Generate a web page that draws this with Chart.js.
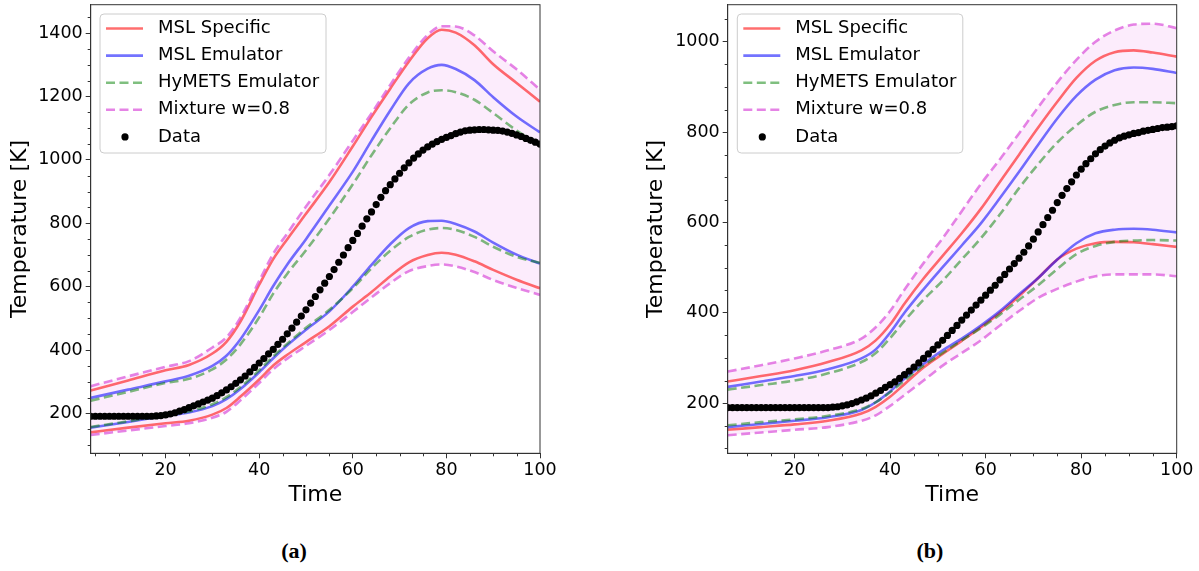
<!DOCTYPE html>
<html>
<head>
<meta charset="utf-8">
<title>Temperature emulators</title>
<script src="https://cdn.jsdelivr.net/npm/chart.js@4.4.1/dist/chart.umd.min.js"></script>
<style>
  html, body { margin: 0; padding: 0; background: #fff; }
  body { position: relative; width: 1199px; height: 571px; overflow: hidden; }
  canvas { position: absolute; top: 0; }
  #chartA { left: 0; }
  #chartB { left: 600px; }
  .caption { position: absolute; top: 540px; width: 100px; text-align: center;
             font: bold 22px/22px "Liberation Serif", "Times New Roman", serif; color: #000; }
</style>
</head>
<body>
<canvas id="chartA" width="560" height="520"></canvas>
<canvas id="chartB" width="599" height="520"></canvas>
<div class="caption" style="left:244px">(a)</div>
<div class="caption" style="left:880px">(b)</div>
<script>
// legend order
const seriesLabels = ['MSL Specific', 'MSL Emulator', 'HyMETS Emulator', 'Mixture w=0.8', 'Data'];
const xTickValues = [20, 40, 60, 80, 100];
const yTickValuesA = [200, 400, 600, 800, 1000, 1200, 1400];
const yTickValuesB = [200, 400, 600, 800, 1000];

// (a) upper / lower band edges
const timeA = [4, 12, 20, 25, 30, 33, 36, 40, 43, 46, 50, 55, 60, 64, 68, 72, 76, 79, 82, 86, 90, 95, 100];
const specUpA = [272, 304, 336, 353, 389, 426, 490, 606, 687, 750, 830, 930, 1043, 1136, 1225, 1311, 1384, 1411, 1402, 1362, 1302, 1243, 1184];
const specLoA = [140, 155, 169, 177, 196, 217, 253, 307, 351, 385, 425, 475, 537, 583, 633, 677, 700, 707, 701, 680, 653, 622, 595];
const emuUpA = [249, 275, 301, 319, 350, 382, 434, 526, 602, 670, 750, 856, 963, 1061, 1156, 1242, 1288, 1300, 1287, 1252, 1198, 1137, 1087];
const emuLoA = [155, 173, 192, 203, 223, 245, 277, 330, 374, 415, 464, 522, 600, 669, 734, 785, 807, 808, 798, 774, 739, 701, 673];
const hymUpA = [240, 268, 296, 309, 339, 370, 418, 503, 578, 641, 715, 815, 923, 1015, 1100, 1175, 1213, 1220, 1214, 1190, 1148, 1093, 1049];
const hymLoA = [157, 175, 194, 206, 229, 251, 283, 336, 380, 420, 470, 527, 595, 658, 713, 757, 780, 785, 779, 757, 726, 694, 675];
const mixUpA = [286, 317, 347, 365, 408, 440, 502, 618, 704, 768, 853, 953, 1061, 1147, 1237, 1323, 1395, 1422, 1421, 1393, 1343, 1286, 1222];
const mixLoA = [132, 146, 160, 169, 186, 205, 241, 296, 339, 373, 413, 463, 520, 566, 611, 649, 665, 670, 664, 646, 621, 596, 574];

// (a) measurements
const dataTimeA = [
  4, 5, 6, 7, 8, 9, 10, 11, 12, 13,
  14, 15, 16, 17, 18, 19, 20, 21, 22, 23,
  24, 25, 26, 27, 28, 29, 30, 31, 32, 33,
  34, 35, 36, 37, 38, 39, 40, 41, 42, 43,
  44, 45, 46, 47, 48, 49, 50, 51, 52, 53,
  54, 55, 56, 57, 58, 59, 60, 61, 62, 63,
  64, 65, 66, 67, 68, 69, 70, 71, 72, 73,
  74, 75, 76, 77, 78, 79, 80, 81, 82, 83,
  84, 85, 86, 87, 88, 89, 90, 91, 92, 93,
  94, 95, 96, 97, 98, 99, 100];
const dataTempA = [
  191, 191, 191, 191, 191, 191, 191, 191, 191, 191,
  191, 191, 191, 191, 192, 193, 195, 198, 202, 207,
  212, 218, 224, 230, 236, 242, 248, 256, 265, 274,
  284, 295, 306, 318, 331, 345, 359, 373, 388, 402,
  418, 434, 451, 469, 488, 507, 527, 548, 569, 590,
  611, 632, 654, 677, 700, 723, 746, 768, 791, 814,
  836, 859, 882, 903, 922, 940, 958, 975, 991, 1006,
  1019, 1031, 1041, 1050, 1058, 1065, 1071, 1077, 1083, 1088,
  1092, 1094, 1095, 1096, 1096, 1095, 1094, 1093, 1091, 1088,
  1084, 1079, 1074, 1068, 1062, 1056, 1050];

// (b) upper / lower band edges
const timeB = [6, 13, 20, 27, 34, 37, 40, 43, 47, 51, 55, 59, 63, 67, 71, 75, 79, 83, 87, 91, 95, 100];
const specUpB = [248, 260, 273, 291, 317, 339, 374, 420, 476, 526, 576, 630, 690, 750, 810, 867, 920, 958, 977, 981, 976, 967];
const specLoB = [141, 147, 153, 161, 177, 192, 214, 242, 279, 309, 338, 368, 400, 437, 477, 518, 542, 554, 557, 556, 552, 546];
const emuUpB = [236, 248, 260, 275, 299, 319, 356, 400, 452, 501, 549, 598, 654, 712, 772, 830, 880, 916, 937, 943, 940, 931];
const emuLoB = [147, 154, 161, 169, 185, 202, 226, 254, 287, 317, 343, 372, 404, 441, 477, 518, 554, 576, 584, 586, 584, 578];
const hymUpB = [230, 240, 250, 266, 291, 311, 344, 382, 429, 471, 518, 565, 618, 676, 729, 777, 815, 845, 860, 866, 866, 864];
const hymLoB = [151, 158, 164, 172, 187, 202, 224, 250, 283, 311, 339, 366, 396, 429, 461, 497, 530, 548, 557, 560, 561, 560];
const mixUpB = [270, 284, 299, 317, 343, 368, 404, 451, 510, 565, 625, 685, 740, 797, 855, 910, 960, 1000, 1025, 1038, 1040, 1030];
const mixLoB = [129, 135, 141, 147, 161, 173, 194, 218, 250, 283, 311, 339, 372, 404, 433, 453, 469, 481, 485, 485, 485, 481];

// (b) measurements
const dataTimeB = [
  6, 7, 8, 9, 10, 11, 12, 13, 14, 15,
  16, 17, 18, 19, 20, 21, 22, 23, 24, 25,
  26, 27, 28, 29, 30, 31, 32, 33, 34, 35,
  36, 37, 38, 39, 40, 41, 42, 43, 44, 45,
  46, 47, 48, 49, 50, 51, 52, 53, 54, 55,
  56, 57, 58, 59, 60, 61, 62, 63, 64, 65,
  66, 67, 68, 69, 70, 71, 72, 73, 74, 75,
  76, 77, 78, 79, 80, 81, 82, 83, 84, 85,
  86, 87, 88, 89, 90, 91, 92, 93, 94, 95,
  96, 97, 98, 99, 100];
const dataTempB = [
  190, 190, 190, 190, 190, 190, 190, 190, 190, 190,
  190, 190, 190, 190, 190, 190, 190, 190, 190, 190,
  190, 190, 191, 192, 194, 196, 199, 203, 207, 211,
  216, 222, 228, 235, 241, 247, 255, 263, 271, 280,
  289, 299, 309, 319, 329, 339, 350, 361, 372, 384,
  395, 406, 417, 428, 439, 450, 461, 473, 485, 497,
  509, 521, 534, 548, 563, 579, 595, 611, 627, 644,
  660, 675, 690, 705, 718, 730, 741, 752, 761, 769,
  776, 782, 787, 791, 794, 797, 799, 802, 804, 806,
  808, 810, 811, 812, 814];

// styling
const lineColors = ['rgba(255, 0, 0, 0.57)', 'rgba(0, 0, 255, 0.55)', 'rgba(0, 128, 0, 0.5)', 'rgba(218, 80, 218, 0.7)'];
const lineDashes = [[], [], [9, 4.5], [9, 4.5]];
const bandFill = 'rgba(238, 130, 238, 0.15)';
const lineW = 2.6;
const tickFont = { family: 'DejaVu Sans', size: 17.5 };
const legendFont = { family: 'DejaVu Sans', size: 18 };
const titleFont = { family: 'DejaVu Sans', size: 22 };
const axisColor = '#333';

Chart.defaults.font.family = 'DejaVu Sans';

function pairs(xs, ys) {
  return xs.map((x, i) => ({ x: x, y: ys[i] }));
}

// spines on top/right plus matplotlib-style minor ticks
const frameTicks = {
  id: 'frameTicks',
  afterDraw(chart, args, o) {
    const { ctx, chartArea: a, scales: { x, y } } = chart;
    ctx.save();
    ctx.strokeStyle = axisColor;
    ctx.lineWidth = 1;
    ctx.strokeRect(a.left, a.top, a.right - a.left, a.bottom - a.top);
    ctx.beginPath();
    for (let v = 5; v < x.max; v += 5) {
      if (v < x.min || v % 20 === 0) continue;
      const px = Math.round(x.getPixelForValue(v)) + 0.5;
      ctx.moveTo(px, a.bottom);
      ctx.lineTo(px, a.bottom + 3);
    }
    for (let v = Math.ceil(y.min / 50) * 50; v < y.max; v += 50) {
      if (v % 200 === 0) continue;
      const py = Math.round(y.getPixelForValue(v)) + 0.5;
      ctx.moveTo(a.left, py);
      ctx.lineTo(a.left - 3, py);
    }
    ctx.stroke();
    ctx.restore();
  }
};

// legend box drawn inside the plot, upper left
const boxLegend = {
  id: 'boxLegend',
  afterDraw(chart, args, o) {
    const ctx = chart.ctx;
    const { x, y, w, h } = o;
    const r = 4;
    ctx.save();
    ctx.beginPath();
    ctx.moveTo(x + r, y);
    ctx.arcTo(x + w, y, x + w, y + h, r);
    ctx.arcTo(x + w, y + h, x, y + h, r);
    ctx.arcTo(x, y + h, x, y, r);
    ctx.arcTo(x, y, x + w, y, r);
    ctx.closePath();
    ctx.fillStyle = 'rgba(255, 255, 255, 0.8)';
    ctx.fill();
    ctx.strokeStyle = '#cccccc';
    ctx.lineWidth = 1;
    ctx.stroke();

    ctx.font = legendFont.size + 'px ' + legendFont.family;
    ctx.textBaseline = 'middle';
    ctx.textAlign = 'left';
    seriesLabels.forEach((label, i) => {
      const ry = y + 14.5 + i * 27.1;
      if (i < 4) {
        ctx.beginPath();
        ctx.setLineDash(lineDashes[i]);
        ctx.strokeStyle = lineColors[i];
        ctx.lineWidth = lineW;
        ctx.moveTo(x + 6, ry);
        ctx.lineTo(x + 43, ry);
        ctx.stroke();
        ctx.setLineDash([]);
      } else {
        ctx.beginPath();
        ctx.fillStyle = '#000';
        ctx.arc(x + 25, ry, 3.6, 0, Math.PI * 2);
        ctx.fill();
      }
      ctx.fillStyle = '#000';
      ctx.fillText(label, x + 58, ry);
    });
    ctx.restore();
  }
};

function buildChart(id, p) {
  const datasets = [{
    label: seriesLabels[4],
    data: pairs(p.dataTime, p.dataTemp),
    showLine: false,
    pointRadius: 3.6,
    pointBackgroundColor: '#000',
    pointBorderWidth: 0,
    order: 0
  }];
  p.bands.forEach((band, i) => {
    band.forEach((vals, k) => {
      datasets.push({
        label: seriesLabels[i],
        data: pairs(p.lineTime, vals),
        borderColor: lineColors[i],
        borderDash: lineDashes[i],
        borderWidth: lineW,
        pointRadius: 0,
        cubicInterpolationMode: 'monotone',
        fill: (i === 3 && k === 0) ? '+1' : false,
        backgroundColor: bandFill,
        order: 4 - i
      });
    });
  });

  new Chart(document.getElementById(id), {
    type: 'line',
    data: { datasets: datasets },
    options: {
      responsive: false,
      animation: false,
      events: [],
      layout: { padding: { left: 0, right: p.padRight, top: 4.7, bottom: 0 } },
      plugins: {
        legend: { display: false },
        tooltip: { enabled: false },
        filler: { drawTime: 'beforeDatasetsDraw' },
        boxLegend: p.legend
      },
      scales: {
        x: {
          type: 'linear',
          min: p.xMin,
          max: 100,
          afterBuildTicks: s => { s.ticks = xTickValues.map(v => ({ value: v })); },
          afterFit: s => { s.height = 66.7; s.paddingLeft = 0; s.paddingRight = 0; },
          ticks: { font: tickFont, color: '#000', padding: 2, maxRotation: 0, autoSkip: false,
                   callback: v => String(v) },
          grid: { drawOnChartArea: false, tickLength: 5, tickColor: axisColor },
          border: { color: axisColor },
          title: { display: true, text: 'Time', font: titleFont, color: '#000',
                   padding: { top: 0, bottom: 11.9 } }
        },
        y: {
          type: 'linear',
          min: p.yMin,
          max: p.yMax,
          afterBuildTicks: s => { s.ticks = p.yTicks.map(v => ({ value: v })); },
          afterFit: s => { s.width = p.yAxisWidth; s.paddingTop = 0; s.paddingBottom = 0; },
          ticks: { font: tickFont, color: '#000', padding: 3, callback: v => String(v) },
          grid: { drawOnChartArea: false, tickLength: 5, tickColor: axisColor },
          border: { color: axisColor },
          title: { display: true, text: 'Temperature [K]', font: titleFont, color: '#000',
                   padding: { top: p.yTitlePad, bottom: 0 } }
        }
      }
    },
    plugins: [frameTicks, boxLegend]
  });
}

buildChart('chartA', {
  lineTime: timeA,
  bands: [[specUpA, specLoA], [emuUpA, emuLoA], [hymUpA, hymLoA], [mixUpA, mixLoA]],
  dataTime: dataTimeA,
  dataTemp: dataTempA,
  xMin: 4,
  yMin: 74,
  yMax: 1490,
  yTicks: yTickValuesA,
  yAxisWidth: 90.7,
  yTitlePad: 6.6,
  padRight: 20,
  legend: { x: 100, y: 14, w: 226, h: 139 }
});

buildChart('chartB', {
  lineTime: timeB,
  bands: [[specUpB, specLoB], [emuUpB, emuLoB], [hymUpB, hymLoB], [mixUpB, mixLoB]],
  dataTime: dataTimeB,
  dataTemp: dataTempB,
  xMin: 6,
  yMin: 89,
  yMax: 1082,
  yTicks: yTickValuesB,
  yAxisWidth: 127.7,
  yTitlePad: 43,
  padRight: 22.3,
  legend: { x: 137.3, y: 14, w: 225.5, h: 139 }
});
</script>
</body>
</html>
